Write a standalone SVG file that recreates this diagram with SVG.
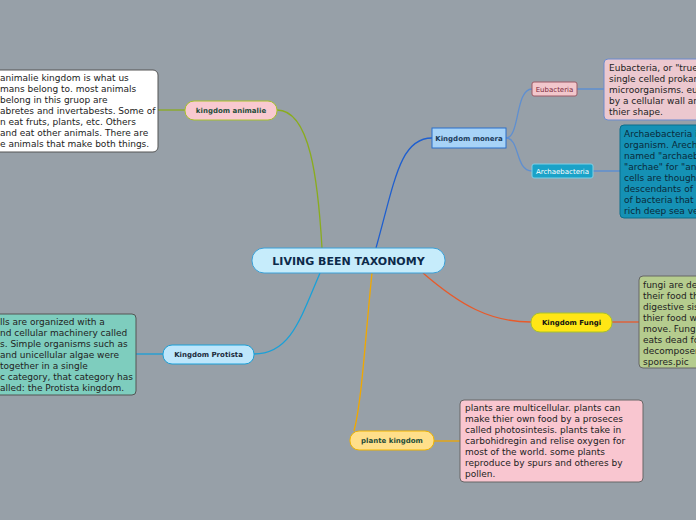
<svg xmlns="http://www.w3.org/2000/svg" width="696" height="520" viewBox="0 0 696 520">
<style>
.t{font-family:"DejaVu Sans","Liberation Sans",sans-serif;font-size:9px;fill:#222}
.n{font-family:"DejaVu Sans","Liberation Sans",sans-serif;font-size:7px;font-weight:bold;text-anchor:middle}
.c{fill:none;stroke-width:1.3}
</style>
<rect width="696" height="520" fill="#97a0a8"/>
<g id="connectors">
<path class="c" stroke="#8aac1e" d="M322,248 C318,180 310,110 277,110"/>
<path class="c" stroke="#1f5fcf" d="M376,248 C395,180 400,138 432,138"/>
<path class="c" stroke="#e85a2a" d="M423,273 C460,305 490,322 531,322"/>
<path class="c" stroke="#1aa0d8" d="M320,273 C300,320 290,354 254,354"/>
<path class="c" stroke="#f0a800" d="M372,273 C365,340 362,400 354,431"/>
<path class="c" stroke="#5f8fd0" d="M506,138 C520,138 515,89 532,89 M506,138 C520,138 515,171 532,171"/>
<path class="c" stroke="#5f8fd0" d="M577,89 H604 M593,171 H620"/>
<path class="c" stroke="#e85a2a" d="M612,322 H639"/>
<path class="c" stroke="#1aa0d8" d="M136,354 H163"/>
<path class="c" stroke="#8aac1e" d="M158,110 H185"/>
<path class="c" stroke="#f0a800" d="M434,441 H460"/>
</g>
<g id="center"><rect x="252" y="248" width="193" height="25" rx="12" fill="#c6ecfb" stroke="#3aa0d8"/><text x="348.5" y="265" text-anchor="middle" style="font-family:'DejaVu Sans','Liberation Sans',sans-serif;font-size:11px;font-weight:bold;fill:#0d2a4a">LIVING BEEN TAXONOMY</text></g>
<g id="animalie"><rect x="185" y="101" width="92" height="19" rx="9" fill="#f9c9d0" stroke="#a8c22a"/><text class="n" x="231" y="113" fill="#1f4d3a">kingdom animalie</text></g>
<g id="animalie-text"><rect x="-5" y="70" width="163" height="82" rx="5" fill="#fff" stroke="#555"/>
<text class="t"><tspan x="0" y="81">animalie kingdom is what us</tspan><tspan x="0" y="92">mans belong to. most animals</tspan><tspan x="0" y="103">belong in this gruop are</tspan><tspan x="0" y="114">abretes and invertabests. Some of</tspan><tspan x="0" y="125">n eat fruts, plants, etc. Others</tspan><tspan x="0" y="136">and eat other animals. There are</tspan><tspan x="0" y="147">e animals that make both things.</tspan></text></g>
<g id="monera"><rect x="432" y="128" width="74" height="20" fill="#a7d3f7" stroke="#2a6fc9"/><text class="n" x="469" y="141" fill="#1a3a5a">Kingdom monera</text></g>
<g id="eubacteria"><rect x="532" y="82" width="45" height="14" rx="2" fill="#f2c7cc" stroke="#9c5a66"/><text x="554.5" y="92" text-anchor="middle" style="font-family:'DejaVu Sans',sans-serif;font-size:7px;fill:#7a2a3a">Eubacteria</text></g>
<g id="eubacteria-text"><rect x="604" y="59" width="100" height="61" rx="4" fill="#ecc8cf" stroke="#6a8bd0"/>
<text class="t"><tspan x="609" y="71">Eubacteria, or "true</tspan><tspan x="609" y="82">single celled prokar</tspan><tspan x="609" y="93">microorganisms. eu</tspan><tspan x="609" y="104">by a cellular wall ar</tspan><tspan x="609" y="115">thier shape.</tspan></text></g>
<g id="archaebacteria"><rect x="532" y="164" width="61" height="14" rx="2" fill="#1aa2c8" stroke="#7fd0e6"/><text x="562.5" y="174" text-anchor="middle" style="font-family:'DejaVu Sans',sans-serif;font-size:7px;fill:#fff">Archaebacteria</text></g>
<g id="archaebacteria-text"><rect x="620" y="125" width="84" height="93" rx="4" fill="#1591b5" stroke="#0b6f8c"/>
<text class="t" style="fill:#0a2a3a"><tspan x="624" y="137">Archaebacteria i</tspan><tspan x="624" y="148">organism. Arech</tspan><tspan x="624" y="159">named "archaeb</tspan><tspan x="624" y="170">"archae" for "an</tspan><tspan x="624" y="181">cells are though</tspan><tspan x="624" y="192">descendants of a</tspan><tspan x="624" y="203">of bacteria that</tspan><tspan x="624" y="214">rich deep sea ve</tspan></text></g>
<g id="fungi"><rect x="531" y="313" width="81" height="19" rx="9" fill="#ffe615" stroke="#a9c22a"/><text class="n" x="571.5" y="325" fill="#111">Kingdom Fungi</text></g>
<g id="fungi-text"><rect x="639" y="276" width="65" height="92" rx="4" fill="#b5cc8e" stroke="#666"/>
<text class="t"><tspan x="643" y="288">fungi are de</tspan><tspan x="643" y="299">their food th</tspan><tspan x="643" y="310">digestive sis</tspan><tspan x="643" y="321">thier food w</tspan><tspan x="643" y="332">move. Fung</tspan><tspan x="643" y="343">eats dead fo</tspan><tspan x="643" y="354">decomposer</tspan><tspan x="643" y="365">spores.pic</tspan></text></g>
<g id="protista"><rect x="163" y="345" width="91" height="19" rx="9" fill="#bde6fb" stroke="#1aa0d8"/><text class="n" x="208.5" y="357" fill="#1a2a3a">Kingdom Protista</text></g>
<g id="protista-text"><rect x="-5" y="314" width="141" height="81" rx="4" fill="#7ecdbe" stroke="#555"/>
<text class="t"><tspan x="0" y="325">lls are organized with a</tspan><tspan x="0" y="336">nd cellular machinery called</tspan><tspan x="0" y="347">s. Simple organisms such as</tspan><tspan x="0" y="358">and unicellular algae were</tspan><tspan x="0" y="369">together in a single</tspan><tspan x="0" y="380">c category, that category has</tspan><tspan x="0" y="391">alled: the Protista kingdom.</tspan></text></g>
<g id="plante"><rect x="350" y="431" width="84" height="19" rx="9" fill="#ffdf8a" stroke="#f0b400"/><text class="n" x="392" y="443" fill="#1f4d3a">plante kingdom</text></g>
<g id="plante-text"><rect x="460" y="400" width="183" height="82" rx="4" fill="#f9c6d0" stroke="#666"/>
<text class="t"><tspan x="465" y="411">plants are multicellular. plants can</tspan><tspan x="465" y="422">make thier own food by a proseces</tspan><tspan x="465" y="433">called photosintesis. plants take in</tspan><tspan x="465" y="444">carbohidregin and relise oxygen for</tspan><tspan x="465" y="455">most of the world. some plants</tspan><tspan x="465" y="466">reproduce by spurs and otheres by</tspan><tspan x="465" y="477">pollen.</tspan></text></g>
</svg>
